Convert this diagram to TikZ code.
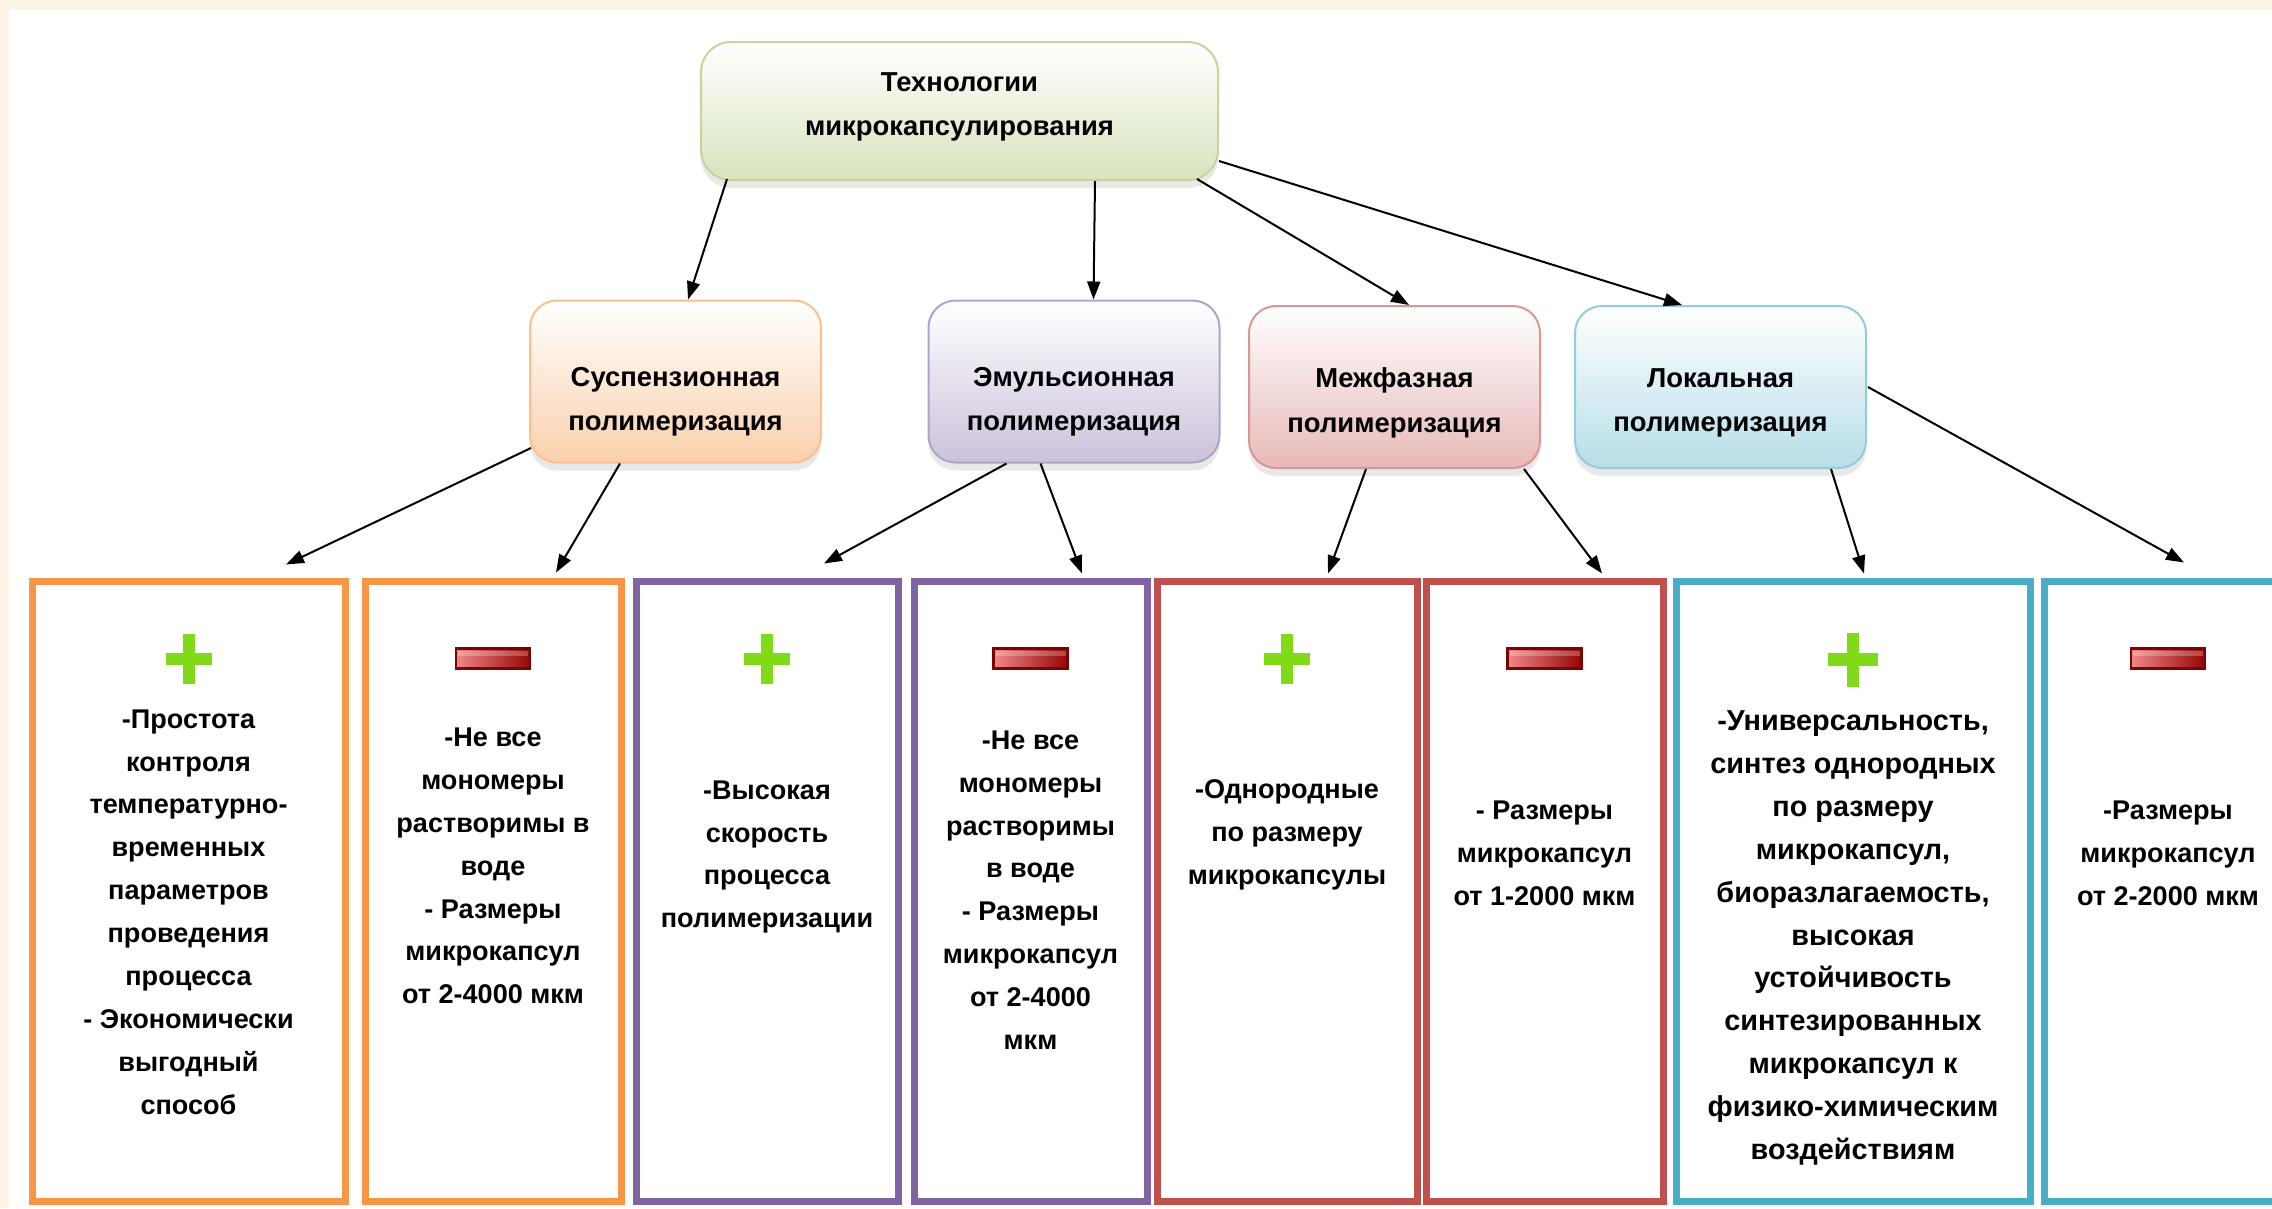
\documentclass[tikz,border=0pt]{standalone}
\usepackage{fontspec}
\setmainfont{Liberation Sans}
\usetikzlibrary{arrows.meta, calc, shadows}
\definecolor{creambg}{RGB}{254, 244, 230}
\definecolor{techgreen}{RGB}{215, 228, 189}
\definecolor{techline}{RGB}{195, 214, 155}
\definecolor{susorange}{RGB}{250, 208, 172}
\definecolor{susline}{RGB}{250, 192, 144}
\definecolor{emupurple}{RGB}{204, 193, 218}
\definecolor{emuline}{RGB}{179, 162, 199}
\definecolor{mezred}{RGB}{230, 185, 184}
\definecolor{mezline}{RGB}{217, 150, 148}
\definecolor{lokblue}{RGB}{183, 222, 232}
\definecolor{lokline}{RGB}{147, 205, 221}
\definecolor{orangeframe}{RGB}{247, 150, 70}
\definecolor{purpleframe}{RGB}{128, 100, 162}
\definecolor{redframe}{RGB}{192, 80, 77}
\definecolor{blueframe}{RGB}{75, 172, 198}
\definecolor{plusgreen}{RGB}{128, 218, 24}
\definecolor{minuslight}{RGB}{240, 135, 135}
\definecolor{minusdark}{RGB}{150, 5, 5}
\tikzset{
    methodbox/.style={
        rectangle, rounded corners=2.7mm, line width=0.2mm,
        minimum width=29.1mm, minimum height=16.2mm, top color=white,
        drop shadow={shadow xshift=0mm, shadow yshift=-0.8mm, opacity=0.18}
    },
    techbox/.style={methodbox, draw=techline, bottom color=techgreen,
        minimum width=51.7mm, minimum height=13.8mm, rounded corners=3mm},
    susbox/.style={methodbox, draw=susline, bottom color=susorange},
    emubox/.style={methodbox, draw=emuline, bottom color=emupurple},
    mezbox/.style={methodbox, draw=mezline, bottom color=mezred},
    lokbox/.style={methodbox, draw=lokline, bottom color=lokblue},
    framebox/.style={rectangle, line width=0.7mm, fill=white, minimum height=62mm},
    orangebox/.style={framebox, draw=orangeframe},
    purplebox/.style={framebox, draw=purpleframe},
    redbox/.style={framebox, draw=redframe},
    bluebox/.style={framebox, draw=blueframe},
    boxtext/.style={font=\fontsize{7.7}{12.2}\selectfont\bfseries, align=center, inner sep=0pt},
    bigboxtext/.style={boxtext, font=\fontsize{8.2}{12.2}\selectfont\bfseries},
    headtext/.style={font=\fontsize{7.8}{12.6}\selectfont\bfseries, align=center, inner sep=0pt},
    arrow/.style={-{Triangle[length=1.8mm, width=1.3mm]}, line width=0.2mm, black},
    plusmark/.pic={
        \fill[plusgreen] (-23,-6) rectangle (23,6);
        \fill[plusgreen] (-6,-25) rectangle (6,25);
    },
    minusmark/.pic={
        \shade[left color=minuslight, right color=minusdark] (-37,-10) rectangle (37,10);
        \fill[white, opacity=0.25] (-35,-8) rectangle (35,-3);
        \draw[minusdark!80!black, line width=0.25mm] (-37,-10) rectangle (37,10);
    },
}

\begin{document}
\begin{tikzpicture}[x=0.1mm, y=-0.1mm]
    \useasboundingbox (0,0) rectangle (2272,1208);
    \fill[creambg] (0,0) rectangle (2272,1208);
    \fill[white] (9,10) rectangle (2272,1208);

    % top level
    \node[techbox] (main) at (959.5,111) {};
    \node[headtext] (maintxt) at ($(main)+(0,-4)$) {Технологии\\микрокапсулирования};

    % methods
    \node[susbox] (sus) at (675.5,381.5) {};
    \node[emubox] (emu) at (1074,381.5) {};
    \node[mezbox] (mez) at (1394.5,387) {};
    \node[lokbox] (lok) at (1720.5,387) {};
    \node[headtext] (sustxt) at ($(sus)+(0,20.5)$) {Суспензионная\\полимеризация};
    \node[headtext] (emutxt) at ($(emu)+(0,20)$) {Эмульсионная\\полимеризация};
    \node[headtext] (meztxt) at ($(mez)+(0,16)$) {Межфазная\\полимеризация};
    \node[headtext] (loktxt) at ($(lok)+(0,16)$) {Локальная\\полимеризация};

    % pros and cons
    \node[orangebox, minimum width=31.3mm] (b1) at (188.5,891) {};
    \node[orangebox, minimum width=25.6mm] (b2) at (493,891) {};
    \node[purplebox, minimum width=26.2mm] (b3) at (767,891) {};
    \node[purplebox, minimum width=23.3mm] (b4) at (1030.5,891) {};
    \node[redbox, minimum width=26mm] (b5) at (1287,891) {};
    \node[redbox, minimum width=23.7mm] (b6) at (1544.5,891) {};
    \node[bluebox, minimum width=35.4mm] (b7) at (1853,891) {};
    \node[bluebox, minimum width=24.8mm] (b8) at (2168,891) {};

    \pic at ($(b1.north)+(0,81)$) {plusmark};
    \pic at ($(b2.north)+(0,81)$) {minusmark};
    \pic at ($(b3.north)+(0,81)$) {plusmark};
    \pic at ($(b4.north)+(0,81)$) {minusmark};
    \pic at ($(b5.north)+(0,81)$) {plusmark};
    \pic at ($(b6.north)+(0,81)$) {minusmark};
    \pic[scale=1.08] at ($(b7.north)+(0,82)$) {plusmark};
    \pic at ($(b8.north)+(0,81)$) {minusmark};

    \node[boxtext] (b1txt) at ($(b1)+(0,21)$) {-Простота\\контроля\\температурно-\\временных\\параметров\\проведения\\процесса\\- Экономически\\выгодный\\способ};
    \node[boxtext] (b2txt) at ($(b2)+(0,-25)$) {-Не все\\мономеры\\растворимы в\\воде\\- Размеры\\микрокапсул\\от 2-4000 мкм};
    \node[boxtext] (b3txt) at ($(b3)+(0,-34)$) {-Высокая\\скорость\\процесса\\полимеризации};
    \node[boxtext] (b4txt) at ($(b4)+(0,-1)$) {-Не все\\мономеры\\растворимы\\в воде\\- Размеры\\микрокапсул\\от 2-4000\\мкм};
    \node[boxtext] (b5txt) at ($(b5)+(0,-56)$) {-Однородные\\по размеру\\микрокапсулы};
    \node[boxtext] (b6txt) at ($(b6)+(0,-38)$) {- Размеры\\микрокапсул\\от 1-2000 мкм};
    \node[bigboxtext] (b7txt) at ($(b7)+(0,47)$) {-Универсальность,\\синтез однородных\\по размеру\\микрокапсул,\\биоразлагаемость,\\высокая\\устойчивость\\синтезированных\\микрокапсул к\\физико-химическим\\воздействиям};
    \node[boxtext] (b8txt) at ($(b8)+(0,-38)$) {-Размеры\\микрокапсул\\от 2-2000 мкм};

    % arrows
    \draw[arrow] ($(main.south west)+(27,-2)$) -- ($(sus.north west)+(159,0)$);
    \draw[arrow] ($(main.south west)+(395,0)$) -- ($(emu.north west)+(166,0)$);
    \draw[arrow] ($(main.south east)+(-22,-2)$) -- ($(mez.north west)+(161,0)$);
    \draw[arrow] ($(main.south east)+(0,-20)$) -- ($(lok.north west)+(108,0)$);

    \draw[arrow] ($(sus.west)+(2,66.5)$) -- ($(b1.north)+(97.5,-13)$);
    \draw[arrow] ($(sus.south west)+(91,0)$) -- ($(b2.north)+(63,-5)$);
    \draw[arrow] ($(emu.south west)+(79,0)$) -- ($(b3.north)+(57,-14)$);
    \draw[arrow] ($(emu.south west)+(113,0)$) -- ($(b4.north)+(51.5,-4)$);
    \draw[arrow] ($(mez.south west)+(118,0)$) -- ($(b5.north)+(41,-4)$);
    \draw[arrow] ($(mez.south west)+(276,0)$) -- ($(b6.north)+(57.5,-4)$);
    \draw[arrow] ($(lok.south west)+(257,0)$) -- ($(b7.north)+(11,-4)$);
    \draw[arrow] ($(lok.east)+(1,0)$) -- ($(b8.north)+(16,-15)$);
\end{tikzpicture}
\end{document}
